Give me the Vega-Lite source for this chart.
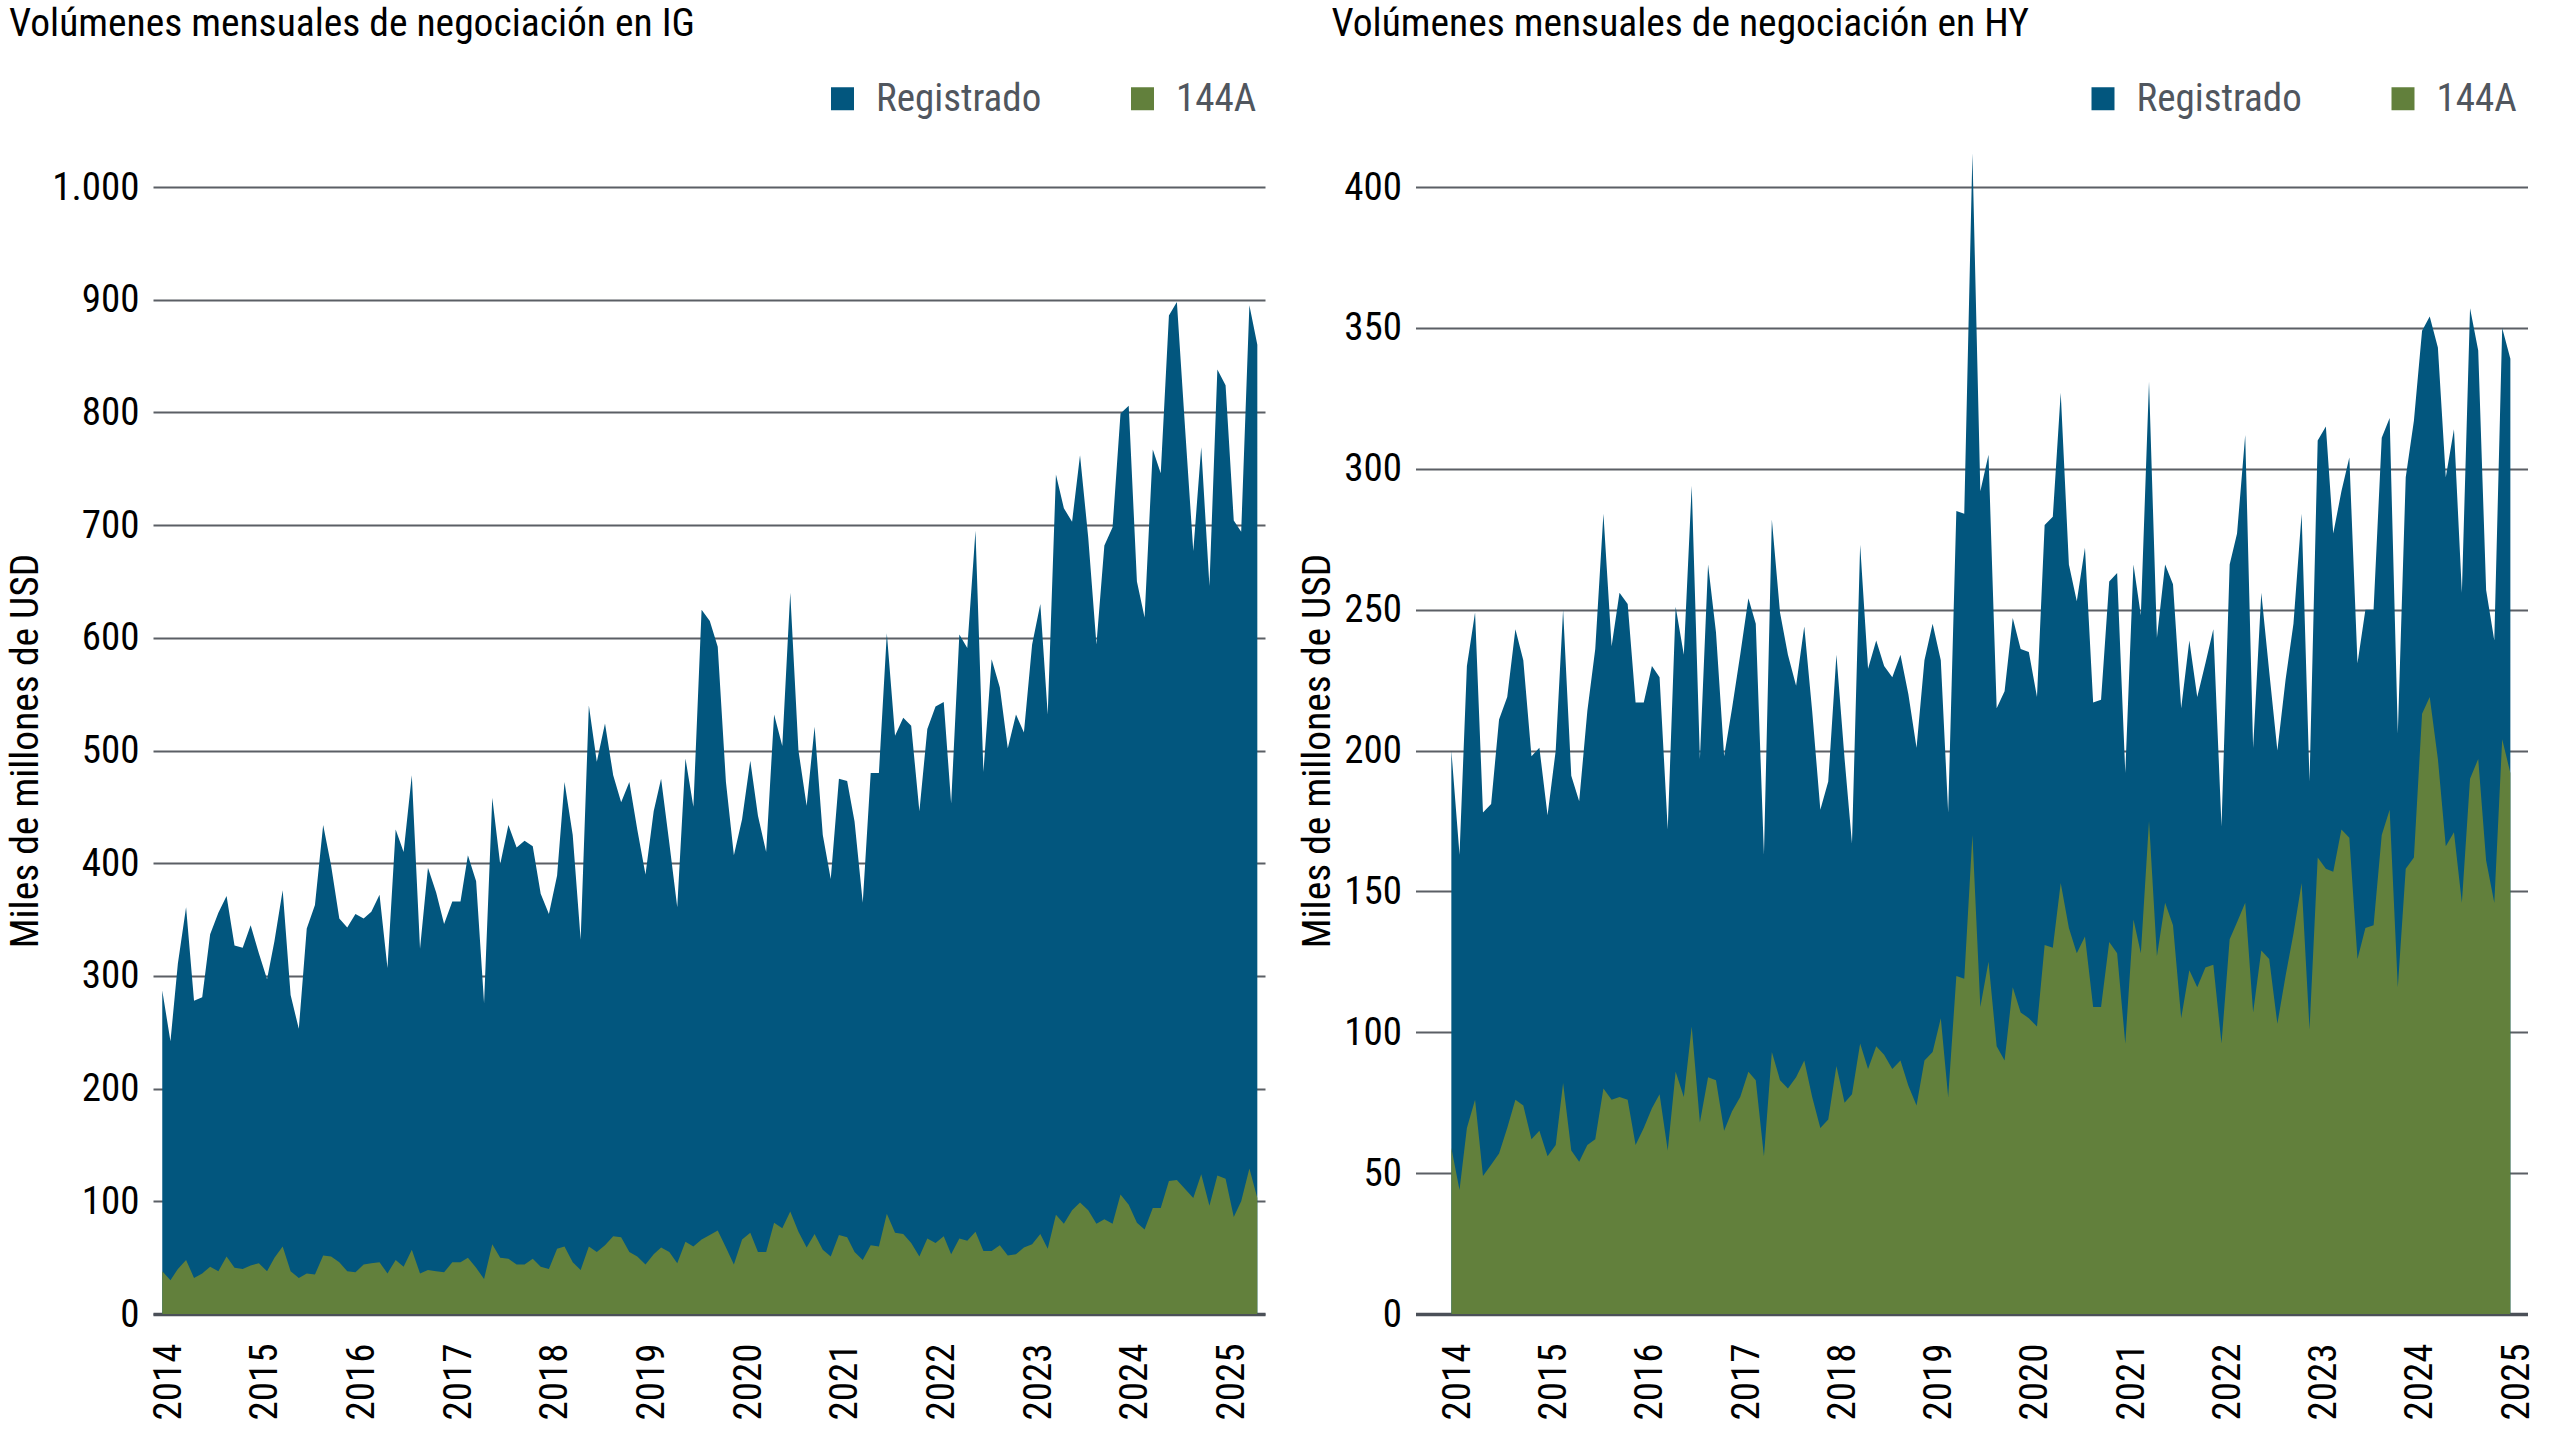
{
  "$schema": "https://vega.github.io/schema/vega-lite/v6.json",
  "background": "white",
  "padding": {"left": 5, "top": 4, "right": 14, "bottom": 4},
  "spacing": 32.5,
  "resolve": {"scale": {"x": "independent", "y": "independent"}, "legend": {"color": "independent"}},
  "config": {
    "view": {"stroke": null},
    "font": "Liberation Sans Narrow, Arial Narrow, Roboto Condensed, DejaVu Sans Condensed, sans-serif",
    "title": {"anchor": "start", "frame": "group", "fontSize": 39.5, "fontWeight": "normal", "color": "#000000", "offset": 34.5},
    "axis": {"labelFontSize": 39, "labelColor": "#000000", "ticks": false, "tickSize": 0, "labelFlush": false, "labelOverlap": false, "labelBound": false},
    "axisX": {"grid": false, "domain": true, "domainColor": "#4b5058", "domainWidth": 3.5, "labelAngle": 270, "labelPadding": 29, "labelOffset": 6},
    "axisY": {"grid": true, "gridColor": "#5b5f65", "gridWidth": 2, "domain": false, "labelPadding": 14, "titleFontSize": 39.5, "titleFontWeight": "normal", "titleColor": "#000000"},
    "legend": {"orient": "none", "direction": "horizontal", "symbolType": "square", "symbolSize": 529, "symbolStrokeWidth": 0, "symbolOpacity": 1, "labelFontSize": 39, "labelColor": "#50565e", "labelOffset": 14, "columnPadding": 81, "padding": 0, "labelLimit": 400},
    "area": {"opacity": 1, "interpolate": "linear"}
  },
  "hconcat": [
    {
      "width": 1112,
      "height": 1127,
      "title": {"text": "Volúmenes mensuales de negociación en IG", "dx": -144},
      "data": {"values": [
        {"mes": "2014-01-01", "total": 287, "a144": 38}, {"mes": "2014-02-01", "total": 242, "a144": 30}, {"mes": "2014-03-01", "total": 311, "a144": 40}, {"mes": "2014-04-01", "total": 361, "a144": 48}, {"mes": "2014-05-01", "total": 278, "a144": 32}, {"mes": "2014-06-01", "total": 281, "a144": 36}, {"mes": "2014-07-01", "total": 337, "a144": 42}, {"mes": "2014-08-01", "total": 356, "a144": 38}, {"mes": "2014-09-01", "total": 371, "a144": 51}, {"mes": "2014-10-01", "total": 327, "a144": 41}, {"mes": "2014-11-01", "total": 325, "a144": 40}, {"mes": "2014-12-01", "total": 345, "a144": 43},
        {"mes": "2015-01-01", "total": 320, "a144": 45}, {"mes": "2015-02-01", "total": 297, "a144": 38}, {"mes": "2015-03-01", "total": 331, "a144": 50}, {"mes": "2015-04-01", "total": 376, "a144": 60}, {"mes": "2015-05-01", "total": 283, "a144": 38}, {"mes": "2015-06-01", "total": 253, "a144": 32}, {"mes": "2015-07-01", "total": 342, "a144": 36}, {"mes": "2015-08-01", "total": 363, "a144": 35}, {"mes": "2015-09-01", "total": 434, "a144": 52}, {"mes": "2015-10-01", "total": 398, "a144": 51}, {"mes": "2015-11-01", "total": 351, "a144": 46}, {"mes": "2015-12-01", "total": 343, "a144": 38},
        {"mes": "2016-01-01", "total": 355, "a144": 37}, {"mes": "2016-02-01", "total": 351, "a144": 44}, {"mes": "2016-03-01", "total": 357, "a144": 45}, {"mes": "2016-04-01", "total": 372, "a144": 46}, {"mes": "2016-05-01", "total": 307, "a144": 36}, {"mes": "2016-06-01", "total": 430, "a144": 48}, {"mes": "2016-07-01", "total": 410, "a144": 42}, {"mes": "2016-08-01", "total": 478, "a144": 57}, {"mes": "2016-09-01", "total": 324, "a144": 36}, {"mes": "2016-10-01", "total": 396, "a144": 39}, {"mes": "2016-11-01", "total": 374, "a144": 38}, {"mes": "2016-12-01", "total": 346, "a144": 37},
        {"mes": "2017-01-01", "total": 366, "a144": 46}, {"mes": "2017-02-01", "total": 366, "a144": 46}, {"mes": "2017-03-01", "total": 407, "a144": 50}, {"mes": "2017-04-01", "total": 384, "a144": 41}, {"mes": "2017-05-01", "total": 276, "a144": 31}, {"mes": "2017-06-01", "total": 458, "a144": 62}, {"mes": "2017-07-01", "total": 399, "a144": 50}, {"mes": "2017-08-01", "total": 434, "a144": 49}, {"mes": "2017-09-01", "total": 414, "a144": 44}, {"mes": "2017-10-01", "total": 420, "a144": 44}, {"mes": "2017-11-01", "total": 415, "a144": 49}, {"mes": "2017-12-01", "total": 373, "a144": 42},
        {"mes": "2018-01-01", "total": 355, "a144": 40}, {"mes": "2018-02-01", "total": 389, "a144": 58}, {"mes": "2018-03-01", "total": 472, "a144": 60}, {"mes": "2018-04-01", "total": 425, "a144": 46}, {"mes": "2018-05-01", "total": 332, "a144": 39}, {"mes": "2018-06-01", "total": 540, "a144": 60}, {"mes": "2018-07-01", "total": 490, "a144": 55}, {"mes": "2018-08-01", "total": 524, "a144": 61}, {"mes": "2018-09-01", "total": 478, "a144": 69}, {"mes": "2018-10-01", "total": 454, "a144": 68}, {"mes": "2018-11-01", "total": 472, "a144": 55}, {"mes": "2018-12-01", "total": 430, "a144": 51},
        {"mes": "2019-01-01", "total": 390, "a144": 44}, {"mes": "2019-02-01", "total": 446, "a144": 53}, {"mes": "2019-03-01", "total": 475, "a144": 59}, {"mes": "2019-04-01", "total": 418, "a144": 55}, {"mes": "2019-05-01", "total": 361, "a144": 45}, {"mes": "2019-06-01", "total": 493, "a144": 64}, {"mes": "2019-07-01", "total": 450, "a144": 60}, {"mes": "2019-08-01", "total": 625, "a144": 66}, {"mes": "2019-09-01", "total": 615, "a144": 70}, {"mes": "2019-10-01", "total": 592, "a144": 74}, {"mes": "2019-11-01", "total": 472, "a144": 59}, {"mes": "2019-12-01", "total": 407, "a144": 44},
        {"mes": "2020-01-01", "total": 439, "a144": 66}, {"mes": "2020-02-01", "total": 491, "a144": 72}, {"mes": "2020-03-01", "total": 442, "a144": 55}, {"mes": "2020-04-01", "total": 410, "a144": 55}, {"mes": "2020-05-01", "total": 532, "a144": 81}, {"mes": "2020-06-01", "total": 504, "a144": 76}, {"mes": "2020-07-01", "total": 640, "a144": 91}, {"mes": "2020-08-01", "total": 500, "a144": 73}, {"mes": "2020-09-01", "total": 451, "a144": 59}, {"mes": "2020-10-01", "total": 521, "a144": 71}, {"mes": "2020-11-01", "total": 425, "a144": 57}, {"mes": "2020-12-01", "total": 386, "a144": 51},
        {"mes": "2021-01-01", "total": 475, "a144": 70}, {"mes": "2021-02-01", "total": 473, "a144": 68}, {"mes": "2021-03-01", "total": 437, "a144": 55}, {"mes": "2021-04-01", "total": 365, "a144": 48}, {"mes": "2021-05-01", "total": 480, "a144": 61}, {"mes": "2021-06-01", "total": 480, "a144": 60}, {"mes": "2021-07-01", "total": 604, "a144": 89}, {"mes": "2021-08-01", "total": 513, "a144": 72}, {"mes": "2021-09-01", "total": 529, "a144": 71}, {"mes": "2021-10-01", "total": 522, "a144": 63}, {"mes": "2021-11-01", "total": 446, "a144": 51}, {"mes": "2021-12-01", "total": 519, "a144": 67},
        {"mes": "2022-01-01", "total": 539, "a144": 63}, {"mes": "2022-02-01", "total": 543, "a144": 69}, {"mes": "2022-03-01", "total": 453, "a144": 53}, {"mes": "2022-04-01", "total": 603, "a144": 67}, {"mes": "2022-05-01", "total": 591, "a144": 65}, {"mes": "2022-06-01", "total": 695, "a144": 73}, {"mes": "2022-07-01", "total": 481, "a144": 56}, {"mes": "2022-08-01", "total": 581, "a144": 56}, {"mes": "2022-09-01", "total": 556, "a144": 61}, {"mes": "2022-10-01", "total": 502, "a144": 52}, {"mes": "2022-11-01", "total": 532, "a144": 53}, {"mes": "2022-12-01", "total": 516, "a144": 59},
        {"mes": "2023-01-01", "total": 594, "a144": 62}, {"mes": "2023-02-01", "total": 630, "a144": 71}, {"mes": "2023-03-01", "total": 532, "a144": 58}, {"mes": "2023-04-01", "total": 745, "a144": 88}, {"mes": "2023-05-01", "total": 715, "a144": 80}, {"mes": "2023-06-01", "total": 703, "a144": 92}, {"mes": "2023-07-01", "total": 762, "a144": 99}, {"mes": "2023-08-01", "total": 689, "a144": 92}, {"mes": "2023-09-01", "total": 594, "a144": 80}, {"mes": "2023-10-01", "total": 682, "a144": 84}, {"mes": "2023-11-01", "total": 698, "a144": 80}, {"mes": "2023-12-01", "total": 799, "a144": 106},
        {"mes": "2024-01-01", "total": 806, "a144": 97}, {"mes": "2024-02-01", "total": 650, "a144": 81}, {"mes": "2024-03-01", "total": 618, "a144": 75}, {"mes": "2024-04-01", "total": 767, "a144": 94}, {"mes": "2024-05-01", "total": 746, "a144": 94}, {"mes": "2024-06-01", "total": 886, "a144": 118}, {"mes": "2024-07-01", "total": 898, "a144": 119}, {"mes": "2024-08-01", "total": 786, "a144": 111}, {"mes": "2024-09-01", "total": 677, "a144": 103}, {"mes": "2024-10-01", "total": 769, "a144": 124}, {"mes": "2024-11-01", "total": 646, "a144": 96}, {"mes": "2024-12-01", "total": 838, "a144": 123},
        {"mes": "2025-01-01", "total": 824, "a144": 120}, {"mes": "2025-02-01", "total": 704, "a144": 86}, {"mes": "2025-03-01", "total": 694, "a144": 100}, {"mes": "2025-04-01", "total": 895, "a144": 129}, {"mes": "2025-05-01", "total": 860, "a144": 103}
      ]},
      "encoding": {
        "x": {
          "field": "mes", "type": "temporal", "title": null,
          "scale": {"type": "utc", "domain": [{"year": 2013, "month": 11, "date": 27, "utc": true}, {"year": 2025, "month": 5, "date": 30, "utc": true}]},
          "axis": {
            "values": [{"year": 2014, "utc": true}, {"year": 2015, "utc": true}, {"year": 2016, "utc": true}, {"year": 2017, "utc": true}, {"year": 2018, "utc": true}, {"year": 2019, "utc": true}, {"year": 2020, "utc": true}, {"year": 2021, "utc": true}, {"year": 2022, "utc": true}, {"year": 2023, "utc": true}, {"year": 2024, "utc": true}, {"year": 2025, "utc": true}],
            "labelExpr": "utcFormat(datum.value, '%Y')"
          }
        }
      },
      "layer": [
        {
          "mark": {"type": "area"},
          "encoding": {
            "y": {"field": "total", "type": "quantitative", "stack": null, "title": "Miles de millones de USD",
              "scale": {"domain": [0, 1000], "nice": false},
              "axis": {"values": [0, 100, 200, 300, 400, 500, 600, 700, 800, 900, 1000], "labelExpr": "replace(format(datum.value, ','), ',', '.')", "titlePadding": 6.5}},
            "color": {"datum": "Registrado", "scale": {"domain": ["Registrado", "144A"], "range": ["#02567e", "#62803c"]}, "legend": {"title": null, "legendX": 670, "legendY": -108}}
          }
        },
        {
          "mark": {"type": "area"},
          "encoding": {
            "y": {"field": "a144", "type": "quantitative", "stack": null, "title": "Miles de millones de USD"},
            "color": {"datum": "144A"}
          }
        }
      ]
    },
    {
      "width": 1112,
      "height": 1127,
      "title": {"text": "Volúmenes mensuales de negociación en HY", "dx": -84},
      "data": {"values": [
        {"mes": "2014-01-01", "total": 200, "a144": 59}, {"mes": "2014-02-01", "total": 163, "a144": 44}, {"mes": "2014-03-01", "total": 230, "a144": 66}, {"mes": "2014-04-01", "total": 249, "a144": 76}, {"mes": "2014-05-01", "total": 178, "a144": 49}, {"mes": "2014-06-01", "total": 181, "a144": 53}, {"mes": "2014-07-01", "total": 211, "a144": 57}, {"mes": "2014-08-01", "total": 219, "a144": 66}, {"mes": "2014-09-01", "total": 243, "a144": 76}, {"mes": "2014-10-01", "total": 232, "a144": 74}, {"mes": "2014-11-01", "total": 198, "a144": 62}, {"mes": "2014-12-01", "total": 201, "a144": 65},
        {"mes": "2015-01-01", "total": 177, "a144": 56}, {"mes": "2015-02-01", "total": 200, "a144": 60}, {"mes": "2015-03-01", "total": 250, "a144": 82}, {"mes": "2015-04-01", "total": 191, "a144": 58}, {"mes": "2015-05-01", "total": 182, "a144": 54}, {"mes": "2015-06-01", "total": 214, "a144": 60}, {"mes": "2015-07-01", "total": 236, "a144": 62}, {"mes": "2015-08-01", "total": 284, "a144": 80}, {"mes": "2015-09-01", "total": 237, "a144": 76}, {"mes": "2015-10-01", "total": 256, "a144": 77}, {"mes": "2015-11-01", "total": 252, "a144": 76}, {"mes": "2015-12-01", "total": 217, "a144": 60},
        {"mes": "2016-01-01", "total": 217, "a144": 66}, {"mes": "2016-02-01", "total": 230, "a144": 73}, {"mes": "2016-03-01", "total": 226, "a144": 78}, {"mes": "2016-04-01", "total": 172, "a144": 58}, {"mes": "2016-05-01", "total": 251, "a144": 86}, {"mes": "2016-06-01", "total": 234, "a144": 77}, {"mes": "2016-07-01", "total": 294, "a144": 102}, {"mes": "2016-08-01", "total": 197, "a144": 68}, {"mes": "2016-09-01", "total": 266, "a144": 84}, {"mes": "2016-10-01", "total": 242, "a144": 83}, {"mes": "2016-11-01", "total": 198, "a144": 65}, {"mes": "2016-12-01", "total": 215, "a144": 72},
        {"mes": "2017-01-01", "total": 234, "a144": 77}, {"mes": "2017-02-01", "total": 254, "a144": 86}, {"mes": "2017-03-01", "total": 245, "a144": 83}, {"mes": "2017-04-01", "total": 163, "a144": 56}, {"mes": "2017-05-01", "total": 282, "a144": 93}, {"mes": "2017-06-01", "total": 249, "a144": 83}, {"mes": "2017-07-01", "total": 234, "a144": 80}, {"mes": "2017-08-01", "total": 223, "a144": 84}, {"mes": "2017-09-01", "total": 244, "a144": 90}, {"mes": "2017-10-01", "total": 214, "a144": 77}, {"mes": "2017-11-01", "total": 179, "a144": 66}, {"mes": "2017-12-01", "total": 189, "a144": 69},
        {"mes": "2018-01-01", "total": 234, "a144": 88}, {"mes": "2018-02-01", "total": 197, "a144": 75}, {"mes": "2018-03-01", "total": 167, "a144": 78}, {"mes": "2018-04-01", "total": 273, "a144": 96}, {"mes": "2018-05-01", "total": 229, "a144": 87}, {"mes": "2018-06-01", "total": 239, "a144": 95}, {"mes": "2018-07-01", "total": 230, "a144": 92}, {"mes": "2018-08-01", "total": 226, "a144": 87}, {"mes": "2018-09-01", "total": 234, "a144": 90}, {"mes": "2018-10-01", "total": 220, "a144": 81}, {"mes": "2018-11-01", "total": 201, "a144": 74}, {"mes": "2018-12-01", "total": 232, "a144": 90},
        {"mes": "2019-01-01", "total": 245, "a144": 93}, {"mes": "2019-02-01", "total": 232, "a144": 105}, {"mes": "2019-03-01", "total": 178, "a144": 77}, {"mes": "2019-04-01", "total": 285, "a144": 120}, {"mes": "2019-05-01", "total": 284, "a144": 119}, {"mes": "2019-06-01", "total": 412, "a144": 170}, {"mes": "2019-07-01", "total": 292, "a144": 109}, {"mes": "2019-08-01", "total": 305, "a144": 125}, {"mes": "2019-09-01", "total": 215, "a144": 95}, {"mes": "2019-10-01", "total": 221, "a144": 90}, {"mes": "2019-11-01", "total": 247, "a144": 116}, {"mes": "2019-12-01", "total": 236, "a144": 107},
        {"mes": "2020-01-01", "total": 235, "a144": 105}, {"mes": "2020-02-01", "total": 219, "a144": 102}, {"mes": "2020-03-01", "total": 280, "a144": 131}, {"mes": "2020-04-01", "total": 283, "a144": 130}, {"mes": "2020-05-01", "total": 327, "a144": 153}, {"mes": "2020-06-01", "total": 266, "a144": 137}, {"mes": "2020-07-01", "total": 253, "a144": 128}, {"mes": "2020-08-01", "total": 272, "a144": 134}, {"mes": "2020-09-01", "total": 217, "a144": 109}, {"mes": "2020-10-01", "total": 218, "a144": 109}, {"mes": "2020-11-01", "total": 260, "a144": 132}, {"mes": "2020-12-01", "total": 263, "a144": 128},
        {"mes": "2021-01-01", "total": 192, "a144": 96}, {"mes": "2021-02-01", "total": 266, "a144": 140}, {"mes": "2021-03-01", "total": 248, "a144": 128}, {"mes": "2021-04-01", "total": 331, "a144": 175}, {"mes": "2021-05-01", "total": 240, "a144": 127}, {"mes": "2021-06-01", "total": 266, "a144": 146}, {"mes": "2021-07-01", "total": 259, "a144": 138}, {"mes": "2021-08-01", "total": 215, "a144": 105}, {"mes": "2021-09-01", "total": 239, "a144": 122}, {"mes": "2021-10-01", "total": 219, "a144": 116}, {"mes": "2021-11-01", "total": 231, "a144": 123}, {"mes": "2021-12-01", "total": 243, "a144": 124},
        {"mes": "2022-01-01", "total": 173, "a144": 96}, {"mes": "2022-02-01", "total": 266, "a144": 133}, {"mes": "2022-03-01", "total": 277, "a144": 139}, {"mes": "2022-04-01", "total": 312, "a144": 146}, {"mes": "2022-05-01", "total": 201, "a144": 107}, {"mes": "2022-06-01", "total": 256, "a144": 129}, {"mes": "2022-07-01", "total": 228, "a144": 126}, {"mes": "2022-08-01", "total": 200, "a144": 103}, {"mes": "2022-09-01", "total": 225, "a144": 120}, {"mes": "2022-10-01", "total": 245, "a144": 135}, {"mes": "2022-11-01", "total": 284, "a144": 153}, {"mes": "2022-12-01", "total": 189, "a144": 101},
        {"mes": "2023-01-01", "total": 310, "a144": 162}, {"mes": "2023-02-01", "total": 315, "a144": 158}, {"mes": "2023-03-01", "total": 277, "a144": 157}, {"mes": "2023-04-01", "total": 292, "a144": 172}, {"mes": "2023-05-01", "total": 304, "a144": 169}, {"mes": "2023-06-01", "total": 231, "a144": 126}, {"mes": "2023-07-01", "total": 250, "a144": 137}, {"mes": "2023-08-01", "total": 250, "a144": 138}, {"mes": "2023-09-01", "total": 311, "a144": 170}, {"mes": "2023-10-01", "total": 318, "a144": 179}, {"mes": "2023-11-01", "total": 206, "a144": 116}, {"mes": "2023-12-01", "total": 297, "a144": 158},
        {"mes": "2024-01-01", "total": 317, "a144": 162}, {"mes": "2024-02-01", "total": 349, "a144": 213}, {"mes": "2024-03-01", "total": 354, "a144": 219}, {"mes": "2024-04-01", "total": 343, "a144": 197}, {"mes": "2024-05-01", "total": 297, "a144": 166}, {"mes": "2024-06-01", "total": 314, "a144": 171}, {"mes": "2024-07-01", "total": 256, "a144": 146}, {"mes": "2024-08-01", "total": 357, "a144": 190}, {"mes": "2024-09-01", "total": 342, "a144": 197}, {"mes": "2024-10-01", "total": 257, "a144": 161}, {"mes": "2024-11-01", "total": 239, "a144": 146}, {"mes": "2024-12-01", "total": 350, "a144": 204},
        {"mes": "2025-01-01", "total": 339, "a144": 192}
      ]},
      "encoding": {
        "x": {
          "field": "mes", "type": "temporal", "title": null,
          "scale": {"type": "utc", "domain": [{"year": 2013, "month": 8, "date": 18, "utc": true}, {"year": 2025, "month": 3, "date": 7, "utc": true}]},
          "axis": {
            "values": [{"year": 2014, "utc": true}, {"year": 2015, "utc": true}, {"year": 2016, "utc": true}, {"year": 2017, "utc": true}, {"year": 2018, "utc": true}, {"year": 2019, "utc": true}, {"year": 2020, "utc": true}, {"year": 2021, "utc": true}, {"year": 2022, "utc": true}, {"year": 2023, "utc": true}, {"year": 2024, "utc": true}, {"year": 2025, "utc": true}],
            "labelExpr": "utcFormat(datum.value, '%Y')"
          }
        }
      },
      "layer": [
        {
          "mark": {"type": "area"},
          "encoding": {
            "y": {"field": "total", "type": "quantitative", "stack": null, "title": "Miles de millones de USD",
              "scale": {"domain": [0, 400], "nice": false},
              "axis": {"values": [0, 50, 100, 150, 200, 250, 300, 350, 400], "titlePadding": 6}},
            "color": {"datum": "Registrado", "scale": {"domain": ["Registrado", "144A"], "range": ["#02567e", "#62803c"]}, "legend": {"title": null, "legendX": 668, "legendY": -108}}
          }
        },
        {
          "mark": {"type": "area"},
          "encoding": {
            "y": {"field": "a144", "type": "quantitative", "stack": null, "title": "Miles de millones de USD"},
            "color": {"datum": "144A"}
          }
        }
      ]
    }
  ]
}
